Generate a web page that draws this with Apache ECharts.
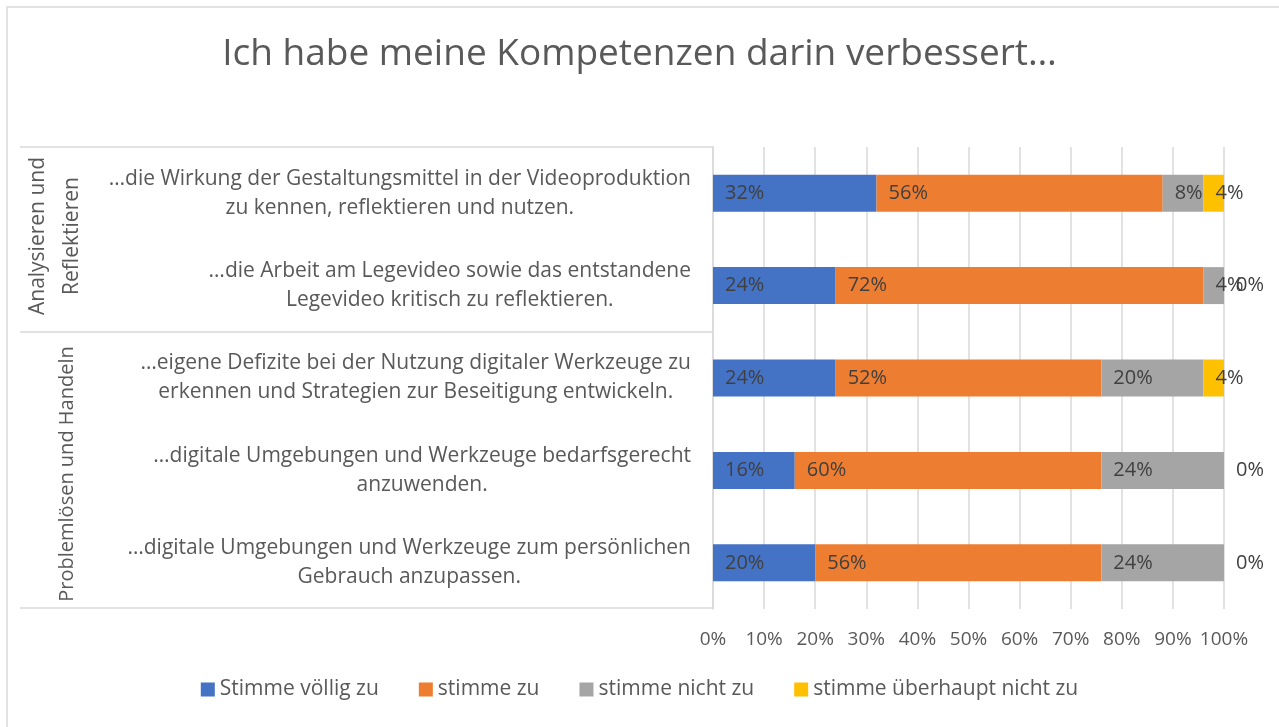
<!DOCTYPE html>
<html>
<head>
<meta charset="utf-8">
<script src="https://cdn.jsdelivr.net/npm/echarts@6/dist/echarts.min.js"></script>
<style>
  html, body { margin: 0; padding: 0; background: #fff; }
  #main { width: 1279px; height: 727px; }
</style>
</head>
<body>
<div id="main"></div>
<script>
  // Aussagen (von oben nach unten)
  var categories = [
    '…die Wirkung der Gestaltungsmittel in der Videoproduktion\nzu kennen, reflektieren und nutzen.',
    '…die Arbeit am Legevideo sowie das entstandene\nLegevideo kritisch zu reflektieren.',
    '…eigene Defizite bei der Nutzung digitaler Werkzeuge zu\nerkennen und Strategien zur Beseitigung entwickeln.',
    '…digitale Umgebungen und Werkzeuge bedarfsgerecht\nanzuwenden.',
    '…digitale Umgebungen und Werkzeuge zum persönlichen\nGebrauch anzupassen.'
  ];
  var seriesNames = ['Stimme völlig zu', 'stimme zu', 'stimme nicht zu', 'stimme überhaupt nicht zu'];
  var voelligZu = [32, 24, 24, 16, 20];
  var zu = [56, 72, 52, 60, 56];
  var nichtZu = [8, 4, 20, 24, 24];
  var ueberhauptNicht = [4, 0, 4, 0, 0];
  var colors = ['#4472C4', '#ED7D31', '#A5A5A5', '#FFC000'];
  var groupLabels = ['Analysieren und\nReflektieren', 'Problemlösen und Handeln'];

  var font = "'Open Sans', 'Noto Sans', sans-serif";
  var textGray = '#595959';
  var lineGray = '#d9d9d9';

  var chart = echarts.init(document.getElementById('main'));

  function makeSeries(name, data, i) {
    return {
      name: name,
      type: 'bar',
      stack: 'total',
      barWidth: '40%',
      data: data,
      itemStyle: { color: colors[i] },
      label: {
        show: true,
        position: 'insideLeft',
        distance: 12,
        formatter: '{c}%',
        color: '#404040',
        fontFamily: font,
        fontSize: 20
      }
    };
  }

  var option = {
    backgroundColor: '#fff',
    animation: false,
    title: {
      text: 'Ich habe meine Kompetenzen darin verbessert…',
      left: 'center',
      top: 31,
      textStyle: { color: textGray, fontFamily: font, fontSize: 37, fontWeight: 'normal' }
    },
    legend: {
      bottom: 22,
      left: 'center',
      itemWidth: 14,
      itemHeight: 14,
      itemGap: 40,
      icon: 'rect',
      textStyle: { color: textGray, fontFamily: font, fontSize: 21 },
      data: seriesNames
    },
    grid: { left: 713, right: 55, top: 147, bottom: 118 },
    xAxis: {
      type: 'value',
      min: 0,
      max: 100,
      interval: 10,
      axisLine: { show: false },
      axisTick: { show: false },
      splitLine: { lineStyle: { color: lineGray, width: 1.5 } },
      axisLabel: { formatter: '{value}%', color: textGray, fontFamily: font, fontSize: 19, margin: 21 }
    },
    yAxis: {
      type: 'category',
      inverse: true,
      data: categories,
      axisLine: { show: true, lineStyle: { color: lineGray, width: 1.5 } },
      axisTick: { show: false },
      axisLabel: {
        align: 'right',
        margin: 22,
        color: textGray,
        fontFamily: font,
        fontSize: 21,
        lineHeight: 29,
        formatter: function (v) {
          return v.split('\n').map(function (s) { return '{c|' + s + '}'; }).join('\n');
        },
        rich: {
          c: { align: 'center', color: textGray, fontFamily: font, fontSize: 21, lineHeight: 29 }
        }
      }
    },
    graphic: [
      { type: 'rect', shape: { x: 7, y: 7, width: 1290, height: 740 }, style: { fill: 'none', stroke: lineGray, lineWidth: 1.5 }, silent: true, z: -1 },
      { type: 'line', shape: { x1: 20, y1: 147, x2: 713, y2: 147 }, style: { stroke: lineGray, lineWidth: 1.5 } },
      { type: 'line', shape: { x1: 20, y1: 332, x2: 713, y2: 332 }, style: { stroke: lineGray, lineWidth: 1.5 } },
      { type: 'line', shape: { x1: 20, y1: 608, x2: 713, y2: 608 }, style: { stroke: lineGray, lineWidth: 1.5 } },
      {
        type: 'text', x: 55, y: 236, rotation: Math.PI / 2,
        style: { text: groupLabels[0], fill: textGray, font: '21px ' + font, textAlign: 'center', textVerticalAlign: 'middle', lineHeight: 34 }
      },
      {
        type: 'text', x: 67, y: 474, rotation: Math.PI / 2,
        style: { text: groupLabels[1], fill: textGray, font: '20px ' + font, textAlign: 'center', textVerticalAlign: 'middle' }
      }
    ],
    series: [
      makeSeries(seriesNames[0], voelligZu, 0),
      makeSeries(seriesNames[1], zu, 1),
      makeSeries(seriesNames[2], nichtZu, 2),
      makeSeries(seriesNames[3], ueberhauptNicht, 3)
    ]
  };

  chart.setOption(option);
</script>
</body>
</html>
